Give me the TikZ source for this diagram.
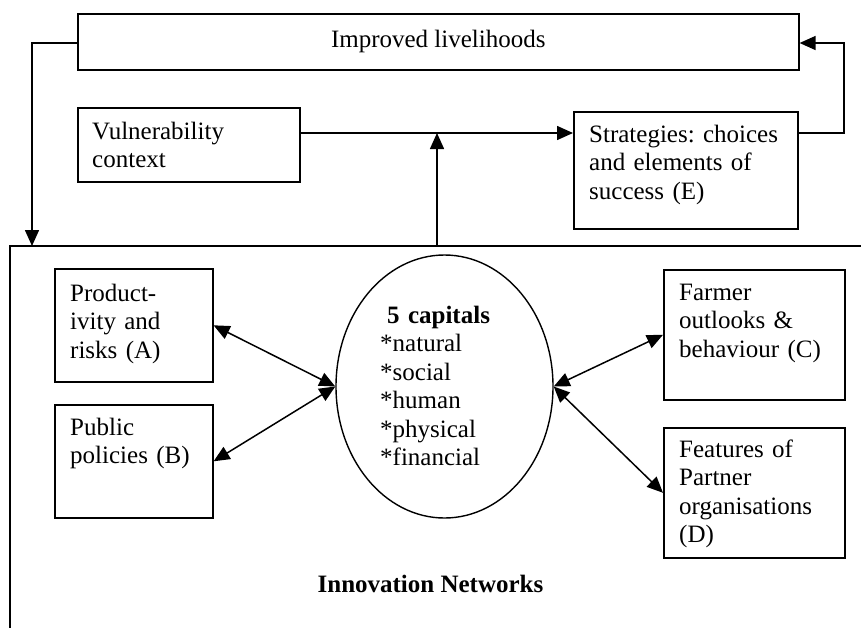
\documentclass[tikz,border=0pt]{standalone}
\usepackage{fontspec}
\setmainfont{Liberation Serif}
\usetikzlibrary{arrows.meta,shapes.geometric}
\newcommand\fsz{\fontsize{25}{28.5}\selectfont\frenchspacing}
\newcommand\firstln{\rule{0pt}{20pt}}
\begin{document}
\begin{tikzpicture}[x=1pt,y=-1pt,
  box/.style={draw, line width=1.6pt, rectangle, inner sep=0pt, anchor=north west},
  txt/.style={anchor=north west, inner sep=0pt, align=left, text width=260pt, font=\fsz},
  arr/.style={line width=1.5pt, -{Triangle[length=16pt,width=14pt]}},
  darr/.style={line width=1.5pt, {Triangle[length=16pt,width=14pt]}-{Triangle[length=16pt,width=14pt]}},
]
\useasboundingbox (0,0) rectangle (861,627);
\fill[white] (0,0) rectangle (861,627);

% frame of innovation networks
\draw[line width=1.6pt] (10,640) -- (10,246) -- (875,246);
\coordinate (fa) at (32,246);

% boxes
\node[box, minimum width=721pt, minimum height=56pt, font=\fsz] (L) at (77,13) {Improved livelihoods};
\node[box, minimum width=222pt, minimum height=74pt] (V) at (77,107) {};
\node[txt] (Vt) at (92,119) {\firstln Vulnerability\\context};
\node[box, minimum width=224pt, minimum height=117pt] (S) at (573,111) {};
\node[txt] (St) at (589,122) {\firstln Strategies: choices\\and elements of\\success (E)};
\node[box, minimum width=158pt, minimum height=113pt] (A) at (54,268) {};
\node[txt] (At) at (70,281) {\firstln Product-\\ivity and\\risks (A)};
\node[box, minimum width=158pt, minimum height=113pt] (B) at (54,404) {};
\node[txt] (Bt) at (70,415) {\firstln Public\\policies (B)};
\node[box, minimum width=181pt, minimum height=130pt] (C) at (663,269) {};
\node[txt] (Ct) at (679,280) {\firstln Farmer\\outlooks \&\\behaviour (C)};
\node[box, minimum width=181pt, minimum height=130pt] (D) at (663,427) {};
\node[txt] (Dt) at (679,437) {\firstln Features of\\Partner\\organisations\\(D)};
\node[draw, ellipse, line width=1.4pt, minimum width=217pt, minimum height=263pt, inner sep=0pt] (E) at (444.5,386.5) {};
\node[txt] (Et) at (380,303) {\firstln\hspace*{7pt}\textbf{5 capitals}\\{*}natural\\{*}social\\{*}human\\{*}physical\\{*}financial};
\node[anchor=base, inner sep=0pt, font=\fsz\bfseries] (N) at (430.5,592) {Innovation Networks};

% connectors
\coordinate (ly) at (0,43);
\coordinate (mid) at (437,133);
\coordinate (rx) at (844,133);
\draw[arr] (L.west |- ly) -| (fa);
\draw[arr] (V.east |- mid) -- (S.west |- mid);
\draw[arr] (fa -| mid) -- (mid);
\draw[arr] (S.east |- mid) -- (rx) |- (L.east |- ly);
\draw[darr] (A.east) -- (E.west);
\draw[darr] (B.east) -- (E.west);
\draw[darr] (E.east) -- (C.west);
\draw[darr] (E.east) -- (D.west);
\end{tikzpicture}
\end{document}
